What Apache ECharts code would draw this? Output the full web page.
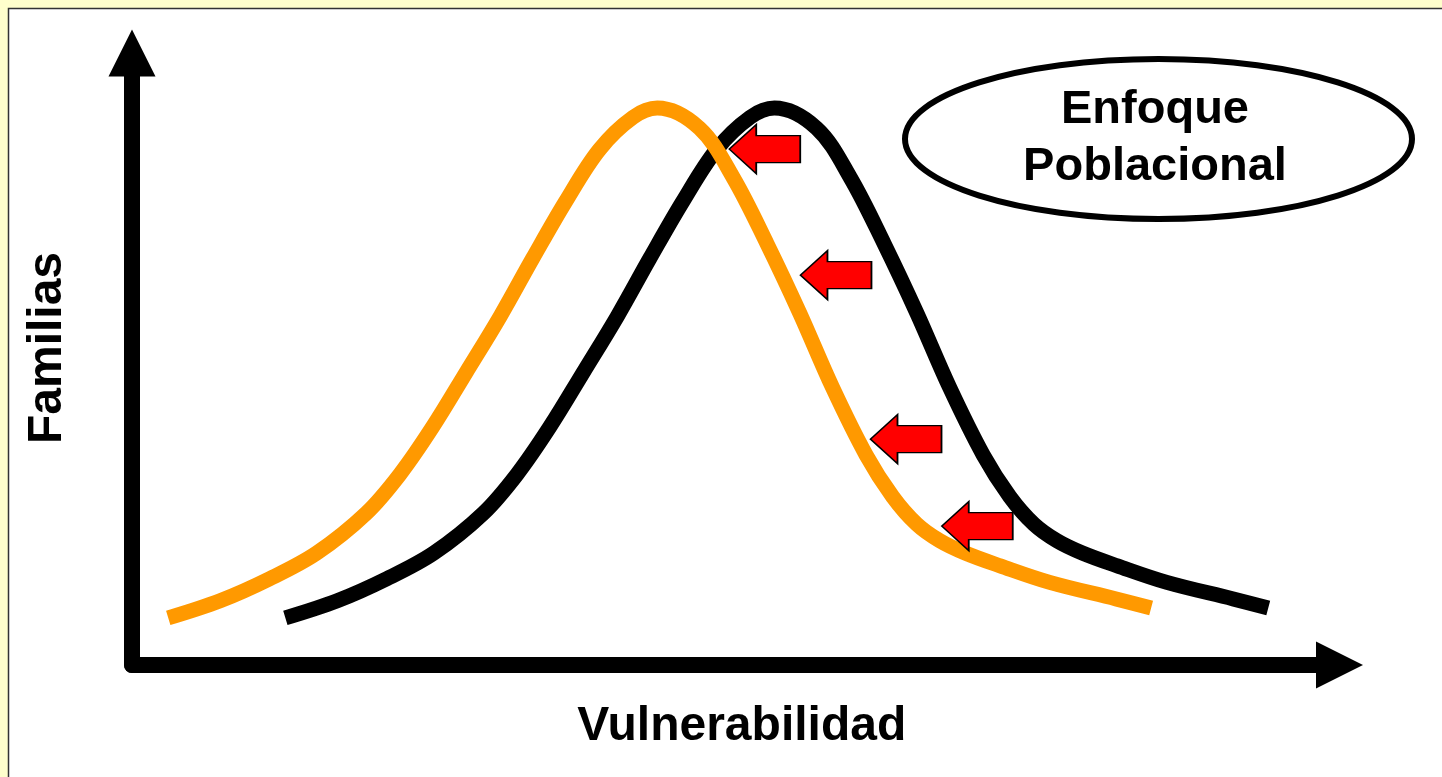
<!DOCTYPE html>
<html>
<head>
<meta charset="utf-8">
<title>Enfoque Poblacional</title>
<script src="https://cdn.jsdelivr.net/npm/echarts@6.0.0/dist/echarts.min.js"></script>
<style>
  html, body {
    margin: 0;
    padding: 0;
    background: #ffffcc;
  }
  #chart {
    width: 1442px;
    height: 777px;
  }
</style>
</head>
<body>
<div id="chart"></div>
<script>
// curva actual (negra), escala 0-100 en ambos ejes
let actualX = [12.7, 17.0, 21.1, 25.0, 29.1, 31.9, 34.6, 37.4, 40.2, 42.9, 45.6, 48.4, 51.2, 53.2,
  56.7, 59.5, 62.3, 65.0, 67.7, 70.5, 72.7, 74.7, 76.6, 78.7, 81.6, 85.7, 91.2, 94.1];
let actualY = [7.7, 10.5, 14.1, 18.3, 24.8, 31.2, 38.9, 47.9, 57.0, 66.5, 75.7, 84.2, 89.5, 91.0,
  87.7, 79.6, 68.8, 57.5, 45.4, 34.3, 27.5, 23.0, 20.3, 18.3, 16.2, 13.5, 10.8, 9.3];

// curva con enfoque poblacional (naranja)
let enfoqueX = [3.0, 7.3, 11.4, 15.3, 19.4, 22.2, 24.9, 27.7, 30.5, 33.2, 35.9, 38.7, 41.5, 43.5,
  47.0, 49.8, 52.6, 55.3, 58.0, 60.8, 63.0, 65.0, 66.9, 69.0, 71.9, 76.0, 81.5, 84.4];
let enfoqueY = [7.7, 10.5, 14.1, 18.3, 24.8, 31.2, 38.9, 47.9, 57.0, 66.5, 75.7, 84.2, 89.5, 91.0,
  87.7, 79.6, 68.8, 57.5, 45.4, 34.3, 27.5, 23.0, 20.3, 18.3, 16.2, 13.5, 10.8, 9.3];

// flechas rojas (desplazamiento hacia menor vulnerabilidad)
let flechaX = [52.4, 58.3, 64.1, 70.0];
let flechaY = [84.3, 63.7, 36.9, 22.7];

let ejeX = "Vulnerabilidad";
let ejeY = "Familias";
let etiqueta = "Enfoque\nPoblacional";

function pares(xs, ys) {
  return xs.map((x, i) => [x, ys[i]]);
}

let myChart = echarts.init(document.getElementById("chart"));

let textoEje = {
  fontFamily: "Liberation Sans",
  fontWeight: "bold",
  fontSize: 48,
  color: "#000"
};

let ejeBase = {
  type: "value",
  min: 0,
  max: 100,
  nameLocation: "middle",
  axisLine: {
    show: true,
    symbol: ["none", "triangle"],
    symbolSize: [47, 47],
    lineStyle: {
      color: "#000",
      width: 16
    }
  },
  axisTick: {show: false},
  axisLabel: {show: false},
  splitLine: {show: false}
};

let option = {
  animation: false,
  backgroundColor: "#ffffcc",
  grid: {
    left: 132,
    right: 102.5,
    top: 53,
    bottom: 112,
    outerBoundsMode: "none"
  },
  xAxis: Object.assign({}, ejeBase, {
    name: ejeX,
    nameGap: 38,
    nameTextStyle: Object.assign({}, textoEje, {padding: [0, 0, 0, 12]})
  }),
  yAxis: Object.assign({}, ejeBase, {
    name: ejeY,
    nameGap: 60,
    nameRotate: 90,
    nameTextStyle: Object.assign({}, textoEje, {padding: [0, 0, 0, 22]})
  }),
  graphic: [
    {
      type: "rect",
      z: -10,
      silent: true,
      shape: {x: 8.5, y: 8.5, width: 1500, height: 800},
      style: {fill: "#fff", stroke: "#333", lineWidth: 1.5}
    },
    {
      type: "ellipse",
      silent: true,
      shape: {cx: 1158.5, cy: 139, rx: 253.5, ry: 80},
      style: {fill: "#fff", stroke: "#000", lineWidth: 6}
    },
    {
      type: "text",
      silent: true,
      x: 1155,
      y: 139,
      style: {
        text: etiqueta,
        fontFamily: "Liberation Sans",
        fontWeight: "bold",
        fontSize: 47,
        lineHeight: 57,
        fill: "#000",
        align: "center",
        verticalAlign: "middle"
      }
    }
  ],
  series: [
    {
      type: "line",
      name: "Actual",
      data: pares(actualX, actualY),
      smooth: 0.35,
      showSymbol: false,
      lineStyle: {color: "#000", width: 15, cap: "butt"},
      z: 2
    },
    {
      type: "line",
      name: "Enfoque",
      data: pares(enfoqueX, enfoqueY),
      smooth: 0.35,
      showSymbol: false,
      lineStyle: {color: "#ff9900", width: 15, cap: "butt"},
      z: 3
    },
    {
      type: "scatter",
      name: "Desplazamiento",
      data: pares(flechaX, flechaY),
      symbol: "path://M0,24.5L27,0L27,11L71,11L71,38L27,38L27,49Z",
      symbolSize: [71, 49],
      itemStyle: {
        color: "#ff0000",
        borderColor: "#000",
        borderWidth: 1.5,
        opacity: 1
      },
      z: 5
    }
  ]
};

myChart.setOption(option);
</script>
</body>
</html>
